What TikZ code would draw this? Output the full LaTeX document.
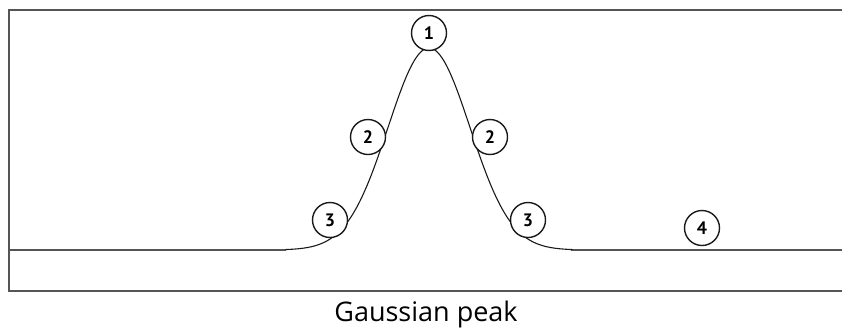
\documentclass[tikz,border=0pt]{standalone}
\usepackage{fontspec}
\setmainfont{PT Sans}
\newfontfamily\capfont{Open Sans}
\usepackage{xcolor}
\definecolor{frame-gray}{HTML}{555555}
\definecolor{ink}{HTML}{1A1A1A}

\begin{document}
\begin{tikzpicture}[x=1pt, y=-1pt,
    every node/.style={font=\fontsize{18}{18}\selectfont\bfseries},
    numbox/.style={draw=ink, circle, fill=white, line width=1.4pt,
      minimum size=35pt, inner sep=0pt}]
    \useasboundingbox (0, 0) rectangle (842, 327);
    % frame, open on the right
    \draw[frame-gray, line width=1.8pt] (842, 10) -- (9, 10) -- (9, 291) -- (842, 291);
    % baseline either side of the peak
    \draw[frame-gray, line width=1.8pt] (9, 250) -- (286, 250);
    \draw[frame-gray, line width=1.8pt] (571, 250) -- (842, 250);
    % the peak
    \draw[ink, line width=1.1pt, smooth] plot[domain=-3.5:3.5, samples=120]
      ({429+41*\x}, {250-202*exp(-\x*\x/2)});
    \node[numbox] (p1) at (429, 33) {1};
    \node[numbox] (p2l) at (368, 137) {2};
    \node[numbox] (p2r) at (490, 137) {2};
    \node[numbox] (p3l) at (330, 220) {3};
    \node[numbox] (p3r) at (528, 220) {3};
    \node[numbox] (p4) at (702, 228) {4};
    \node[font=\capfont\fontsize{27}{27}\selectfont, anchor=base] (cap) at (426, 321) {Gaussian peak};
  \end{tikzpicture}
\end{document}
